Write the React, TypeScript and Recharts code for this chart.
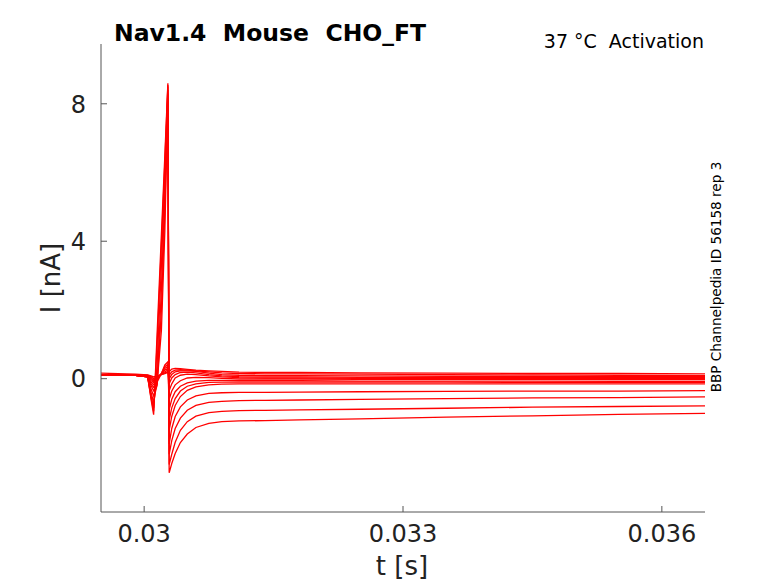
import React from "react";
import { LineChart, Line, XAxis, YAxis } from "recharts";

// sample times (s), shared by every sweep
const TIME = [
  0.0295, 0.0299, 0.03004, 0.03008, 0.03011, 0.03015, 0.0302, 0.03024, 0.030275,
  0.03029, 0.03032, 0.03036, 0.03042, 0.0305, 0.0306, 0.03075, 0.0309, 0.0311,
  0.0314, 0.0318, 0.0325, 0.0335, 0.0345, 0.0355, 0.0365,
];

// current sweeps (nA), top steady level first
const TRACE_A = [0.16, 0.13, 0.11, 0.08, 0.05, 0.08, 0.12, 0.15, 0.18, 0.2, 0.28, 0.3, 0.29, 0.27, 0.25, 0.23, 0.21, 0.19, 0.18, 0.18, 0.17, 0.16, 0.15, 0.15, 0.14];
const TRACE_B = [0.12, 0.11, 0.1, 0.06, 0.0, 0.06, 0.12, 0.17, 0.2, 0.1, 0.2, 0.25, 0.26, 0.25, 0.23, 0.2, 0.17, 0.15, 0.14, 0.14, 0.13, 0.12, 0.11, 0.1, 0.09];
const TRACE_C = [0.1, 0.1, 0.09, 0.03, -0.05, 0.04, 0.13, 0.2, 0.25, 0.0, 0.12, 0.2, 0.23, 0.23, 0.21, 0.16, 0.12, 0.1, 0.09, 0.09, 0.08, 0.07, 0.07, 0.06, 0.06];
const TRACE_D = [0.1, 0.1, 0.08, 0.0, -0.08, 0.02, 0.14, 0.25, 0.3, -0.15, 0.02, 0.12, 0.18, 0.19, 0.17, 0.12, 0.08, 0.06, 0.05, 0.05, 0.04, 0.04, 0.03, 0.03, 0.03];
const TRACE_E = [0.1, 0.1, 0.07, -0.05, -0.12, 0.0, 0.15, 0.3, 0.36, -0.35, -0.15, 0.02, 0.1, 0.13, 0.12, 0.08, 0.05, 0.03, 0.02, 0.02, 0.01, 0.01, 0.0, 0.0, 0.0];
const TRACE_F = [0.1, 0.1, 0.06, -0.1, -0.18, -0.05, 0.15, 0.35, 0.42, -0.6, -0.36, -0.18, -0.06, 0.02, 0.04, 0.03, 0.01, -0.01, -0.01, -0.01, -0.02, -0.02, -0.02, -0.03, -0.03];
const TRACE_G = [0.1, 0.1, 0.05, -0.15, -0.25, -0.1, 0.15, 0.4, 0.49, -0.9, -0.6, -0.38, -0.22, -0.12, -0.07, -0.05, -0.05, -0.06, -0.06, -0.06, -0.07, -0.07, -0.07, -0.08, -0.08];
const TRACE_H = [0.1, 0.1, 0.05, -0.2, -0.35, -0.15, 1.4, 4.3, 8.1, -1.2, -0.85, -0.58, -0.36, -0.22, -0.15, -0.11, -0.1, -0.1, -0.1, -0.1, -0.1, -0.1, -0.11, -0.11, -0.11];
const TRACE_I = [0.1, 0.1, 0.05, -0.3, -0.5, -0.2, 2.0, 4.9, 8.3, -1.5, -1.1, -0.78, -0.52, -0.34, -0.24, -0.18, -0.16, -0.15, -0.15, -0.15, -0.15, -0.15, -0.15, -0.15, -0.15];
const TRACE_J = [0.1, 0.1, 0.05, -0.4, -0.7, -0.1, 2.6, 5.4, 8.4, -1.9, -1.45, -1.1, -0.82, -0.62, -0.5, -0.43, -0.41, -0.4, -0.4, -0.39, -0.38, -0.37, -0.36, -0.36, -0.35];
const TRACE_K = [0.1, 0.1, 0.05, -0.5, -0.85, 0.4, 3.3, 5.9, 8.5, -2.2, -1.8, -1.45, -1.15, -0.92, -0.78, -0.69, -0.66, -0.64, -0.63, -0.62, -0.6, -0.58, -0.56, -0.55, -0.53];
const TRACE_L = [0.1, 0.1, 0.06, -0.55, -0.95, 1.0, 3.9, 6.3, 8.55, -2.5, -2.2, -1.85, -1.5, -1.25, -1.09, -0.99, -0.95, -0.93, -0.92, -0.91, -0.89, -0.86, -0.83, -0.81, -0.79];
const TRACE_M = [0.1, 0.1, 0.08, -0.6, -1.05, 1.3, 4.2, 6.5, 8.6, -2.74, -2.47, -2.18, -1.86, -1.61, -1.42, -1.3, -1.25, -1.23, -1.22, -1.2, -1.17, -1.12, -1.08, -1.04, -1.01];

const TRACES = [TRACE_A, TRACE_B, TRACE_C, TRACE_D, TRACE_E, TRACE_F, TRACE_G, TRACE_H, TRACE_I, TRACE_J, TRACE_K, TRACE_L, TRACE_M];

const X_TICKS = [0.03, 0.033, 0.036];
const Y_TICKS = [0, 4, 8];

const rows = TIME.map((t, i) => {
  const row: Record<string, number> = { t };
  TRACES.forEach((tr, k) => {
    row[`s${k}`] = tr[i];
  });
  return row;
});

const FONT = "DejaVu Sans";
const AXIS = "#555";

const XTick = ({ x, y, payload }: any) => (
  <g>
    <line x1={x} x2={x} y1={y} y2={y - 6} stroke={AXIS} />
    <text x={x} y={y + 29.5} textAnchor="middle" fontSize={24} fill="#222" fontFamily={FONT}>
      {payload.value}
    </text>
  </g>
);

const YTick = ({ x, y, payload }: any) => (
  <g>
    <line x1={x} x2={x + 6} y1={y} y2={y} stroke={AXIS} />
    <text x={x - 15} y={y + 8.8} textAnchor="end" fontSize={24} fill="#222" fontFamily={FONT}>
      {payload.value}
    </text>
  </g>
);

export default function App() {
  return (
    <div style={{ position: "absolute", left: 0, top: 0, width: 778, height: 583, background: "#fff" }}>
      <LineChart width={778} height={583} data={rows} margin={{ top: 44, right: 73, bottom: 31, left: 41 }}>
        <XAxis
          dataKey="t"
          type="number"
          domain={[0.0295, 0.0365]}
          ticks={X_TICKS}
          allowDataOverflow
          height={40}
          tickSize={0}
          tickMargin={0}
          tickLine={false}
          axisLine={{ stroke: AXIS }}
          tick={<XTick />}
        />
        <YAxis
          type="number"
          domain={[-3.88, 9.74]}
          ticks={Y_TICKS}
          allowDataOverflow
          width={60}
          tickSize={0}
          tickMargin={0}
          tickLine={false}
          axisLine={{ stroke: AXIS }}
          tick={<YTick />}
        />
        {TRACES.map((_, k) => (
          <Line
            key={k}
            dataKey={`s${k}`}
            type="linear"
            stroke="#ff0000"
            strokeWidth={1.3}
            dot={false}
            activeDot={false}
            isAnimationActive={false}
          />
        ))}
      </LineChart>
      <svg width={778} height={583} style={{ position: "absolute", left: 0, top: 0, pointerEvents: "none" }}>
        <text x={114} y={41} fontSize={23.5} fontWeight="bold" fill="#000" fontFamily={FONT} style={{ whiteSpace: "pre" }}>
          {"Nav1.4  Mouse  CHO_FT"}
        </text>
        <text x={704} y={48} textAnchor="end" fontSize={19} fill="#000" fontFamily={FONT} style={{ whiteSpace: "pre" }}>
          {"37 °C  Activation"}
        </text>
        <text
          x={0}
          y={0}
          transform="translate(721 277) rotate(-90)"
          textAnchor="middle"
          fontSize={13.6}
          fill="#000"
          fontFamily={FONT}
        >
          BBP Channelpedia ID 56158 rep 3
        </text>
        <text
          x={0}
          y={0}
          transform="translate(60 278) rotate(-90)"
          textAnchor="middle"
          fontSize={26}
          fill="#222"
          fontFamily={FONT}
        >
          I [nA]
        </text>
        <text x={402} y={575} textAnchor="middle" fontSize={26} fill="#222" fontFamily={FONT}>
          t [s]
        </text>
      </svg>
    </div>
  );
}
